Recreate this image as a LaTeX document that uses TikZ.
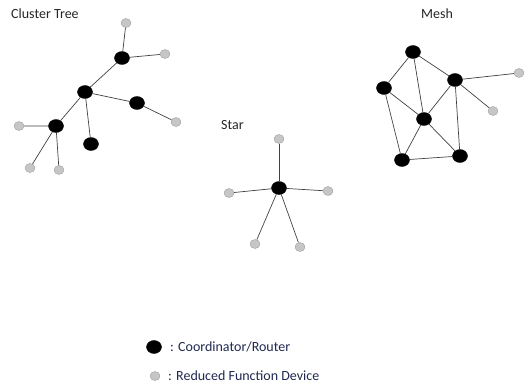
\documentclass[tikz,border=0pt]{standalone}
\usepackage{fontspec}
\setmainfont{Carlito}
\usepackage{tikz}
\usetikzlibrary{positioning,shapes.geometric}
\definecolor{legendtext}{RGB}{31,40,80}

\begin{document}
\begin{tikzpicture}[
  x=1pt, y=-1pt,
  cord/.style={ellipse, fill=black, draw=black, inner sep=0pt, minimum width=15pt, minimum height=13pt},
  rfd/.style={ellipse, fill=gray!45, draw=gray!75, inner sep=0pt, minimum width=10pt, minimum height=9pt},
  link/.style={draw=black!75, line width=0.7pt},
  title/.style={font=\fontsize{14}{16}\selectfont, text=black!85, inner sep=0pt},
  legend/.style={font=\fontsize{14}{16}\selectfont, text=legendtext, inner sep=0pt, anchor=west},
]
\useasboundingbox (0,0) rectangle (524,385);

% Cluster tree
\node[title, anchor=west] (ttree) at (11,14) {Cluster Tree};
\node[cord] (c0) at (85,92) {};
\node[cord] (c1) at (122,58) {};
\node[cord] (c2) at (137,103) {};
\node[cord] (c3) at (56,126) {};
\node[cord] (c4) at (91,144) {};
\node[rfd] (t1) at (126,23) {};
\node[rfd] (t2) at (165,54) {};
\node[rfd] (t3) at (176,122) {};
\node[rfd] (t4) at (19,126) {};
\node[rfd] (t5) at (30,168) {};
\node[rfd] (t6) at (59,170) {};
\draw[link] (c0) -- (c1) (c0) -- (c2) (c0) -- (c3) (c0) -- (c4);
\draw[link] (c1) -- (t1) (c1) -- (t2) (c2) -- (t3);
\draw[link] (c3) -- (t4) (c3) -- (t5) (c3) -- (t6);

% Star
\node[title, anchor=west] (tstar) at (221,125) {Star};
\node[cord] (s0) at (279,188) {};
\node[rfd] (s1) at (279,139) {};
\node[rfd] (s2) at (328,191) {};
\node[rfd] (s3) at (229,193) {};
\node[rfd] (s4) at (255,244) {};
\node[rfd] (s5) at (300,247) {};
\foreach \s in {s1,s2,s3,s4,s5}
  \draw[link] (s0) -- (\s);

% Mesh
\node[title] (tmesh) at (437,14) {Mesh};
\node[cord] (m1) at (413,52) {};
\node[cord] (m2) at (384,88) {};
\node[cord] (m3) at (455,80) {};
\node[cord] (m4) at (424,119) {};
\node[cord] (m5) at (402,160) {};
\node[cord] (m6) at (460,156) {};
\node[rfd] (g1) at (519,73) {};
\node[rfd] (g2) at (493,111) {};
\foreach \a/\b in {m1/m2,m1/m3,m1/m4,m2/m4,m2/m5,m3/m4,m3/m6,m4/m5,m4/m6,m5/m6,m3/g1,m3/g2}
  \draw[link] (\a) -- (\b);

% Legend
\node[cord] (kcord) at (154,347) {};
\node[legend] (lcord) at (170,347) {: Coordinator/Router};
\node[rfd] (krfd) at (155,376) {};
\node[legend] (lrfd) at (168,376) {: Reduced Function Device};
\end{tikzpicture}
\end{document}
